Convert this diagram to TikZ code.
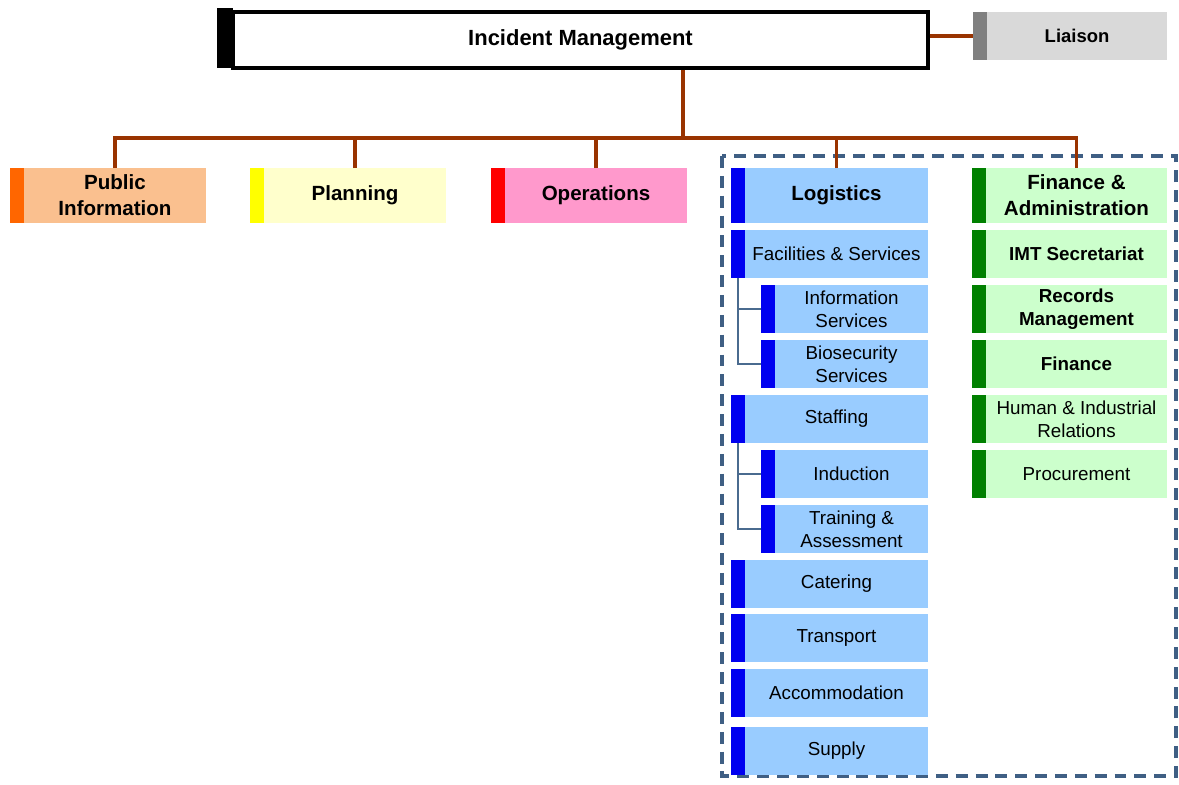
\documentclass[tikz,border=0pt]{standalone}
\usepackage{fontspec}
\setmainfont{Liberation Sans}
\usetikzlibrary{calc}

\definecolor{pubbar}{HTML}{FF6600}
\definecolor{pubfill}{HTML}{FAC08F}
\definecolor{planbar}{HTML}{FFFF00}
\definecolor{planfill}{HTML}{FFFFCC}
\definecolor{opsbar}{HTML}{FF0000}
\definecolor{opsfill}{HTML}{FF99CC}
\definecolor{logbar}{HTML}{0000F0}
\definecolor{logfill}{HTML}{99CCFF}
\definecolor{finbar}{HTML}{008000}
\definecolor{finfill}{HTML}{CCFFCC}
\definecolor{liabar}{HTML}{808080}
\definecolor{liafill}{HTML}{D9D9D9}
\definecolor{linkbrown}{HTML}{993300}
\definecolor{framecol}{HTML}{3F5F84}
\definecolor{treecol}{HTML}{4A6B8F}

\tikzset{
	box/.style={inner sep=0pt, outer sep=0pt, align=center, minimum height=0.96cm},
	head/.style={box, minimum width=3.64cm, minimum height=1.1cm, font=\bfseries\fontsize{11.7}{14.7}\selectfont},
	sub/.style={box, fill=logfill, minimum width=3.66cm, font=\fontsize{10.7}{13}\selectfont},
	subsub/.style={sub, minimum width=3.06cm},
	finsub/.style={sub, fill=finfill, minimum width=3.62cm},
	link/.style={draw=linkbrown, line width=2pt},
	tree/.style={draw=treecol, line width=0.7pt},
	group/.style={draw=framecol, line width=1.9pt, dash pattern=on 6.8pt off 4.5pt},
}

\begin{document}
\begin{tikzpicture}[x=0.02cm, y=-0.02cm]
\useasboundingbox (0,0) rectangle (1179,784);

	%% Rahmen Logistik / Finanzen
	\draw[group] (722,156) rectangle (1176,776);

	%% Leitung
	\node[draw=black, line width=1.8pt, inner sep=0pt, minimum width=13.9cm, minimum height=1.12cm,
		font=\bfseries\fontsize{12.5}{15}\selectfont] (im) at (580.5,40) {Incident Management};
	\fill[black] ($(im.north west)+(-14,-2)$) rectangle ($(im.south west)+(2,-2)$);
	\node[box, fill=liafill, minimum width=3.6cm, font=\bfseries\fontsize{10.5}{13}\selectfont] (lia) at (1077,36) {Liaison};

	%% Bereiche
	\node[head, fill=pubfill] (pub) at (115,195.5) {Public\\Information};
	\node[head, fill=planfill] (plan) at (355,195.5) {Planning};
	\node[head, fill=opsfill] (ops) at (596,195.5) {Operations};
	\node[head, fill=logfill, minimum width=3.66cm] (log) at (836.5,195.5) {Logistics};
	\node[head, fill=finfill, minimum width=3.62cm] (fin) at (1076.5,195.5) {Finance \&\\Administration};

	%% Logistik
	\node[sub] (fac) at (836.5,254) {Facilities \& Services};
	\node[subsub] (info) at (851.5,309) {Information\\Services};
	\node[subsub] (bio) at (851.5,364) {Biosecurity\\Services};
	\node[sub] (staff) at (836.5,419) {Staffing};
	\node[subsub] (ind) at (851.5,474) {Induction};
	\node[subsub] (train) at (851.5,529) {Training \&\\Assessment};
	\node[sub] (cat) at (836.5,584) {Catering};
	\node[sub] (trans) at (836.5,638) {Transport};
	\node[sub] (acc) at (836.5,693) {Accommodation};
	\node[sub] (sup) at (836.5,751) {Supply};

	%% Finanzen
	\node[finsub, font=\bfseries\fontsize{10.7}{13}\selectfont] (imt) at (1076.5,254) {IMT Secretariat};
	\node[finsub, font=\bfseries\fontsize{10.7}{13}\selectfont] (rec) at (1076.5,309) {Records\\Management};
	\node[finsub, font=\bfseries\fontsize{10.7}{13}\selectfont] (money) at (1076.5,364) {Finance};
	\node[finsub] (hr) at (1076.5,419) {Human \& Industrial\\Relations};
	\node[finsub] (proc) at (1076.5,474) {Procurement};

	%% Farbbalken
	\foreach \n/\c in {pub/pubbar, plan/planbar, ops/opsbar, lia/liabar}
		\fill[\c] (\n.north west) ++(-14,0) rectangle (\n.south west);
	\foreach \n in {log, fac, info, bio, staff, ind, train, cat, trans, acc, sup}
		\fill[logbar] (\n.north west) ++(-14,0) rectangle (\n.south west);
	\foreach \n in {fin, imt, rec, money, hr, proc}
		\fill[finbar] (\n.north west) ++(-14,0) rectangle (\n.south west);

	%% Verbindungen
	\coordinate (bus) at (683,138);
	\draw[link] (im.south -| bus) -- (bus);
	\draw[link] (pub.north) -- (pub.north |- bus) -- (fin.north |- bus) -- (fin.north);
	\foreach \n in {plan, ops, log}
		\draw[link] (\n.north) -- (\n.north |- bus);
	\draw[link] (im.east |- lia.west) -- ($(lia.west)+(-14,0)$);

	%% Unterbereiche
	\draw[tree] ($(fac.south west)+(-7,0)$) coordinate (t1) |- ($(bio.west)+(-14,0)$);
	\draw[tree] (t1 |- info.west) -- ($(info.west)+(-14,0)$);
	\draw[tree] ($(staff.south west)+(-7,0)$) coordinate (t2) |- ($(train.west)+(-14,0)$);
	\draw[tree] (t2 |- ind.west) -- ($(ind.west)+(-14,0)$);
\end{tikzpicture}
\end{document}
